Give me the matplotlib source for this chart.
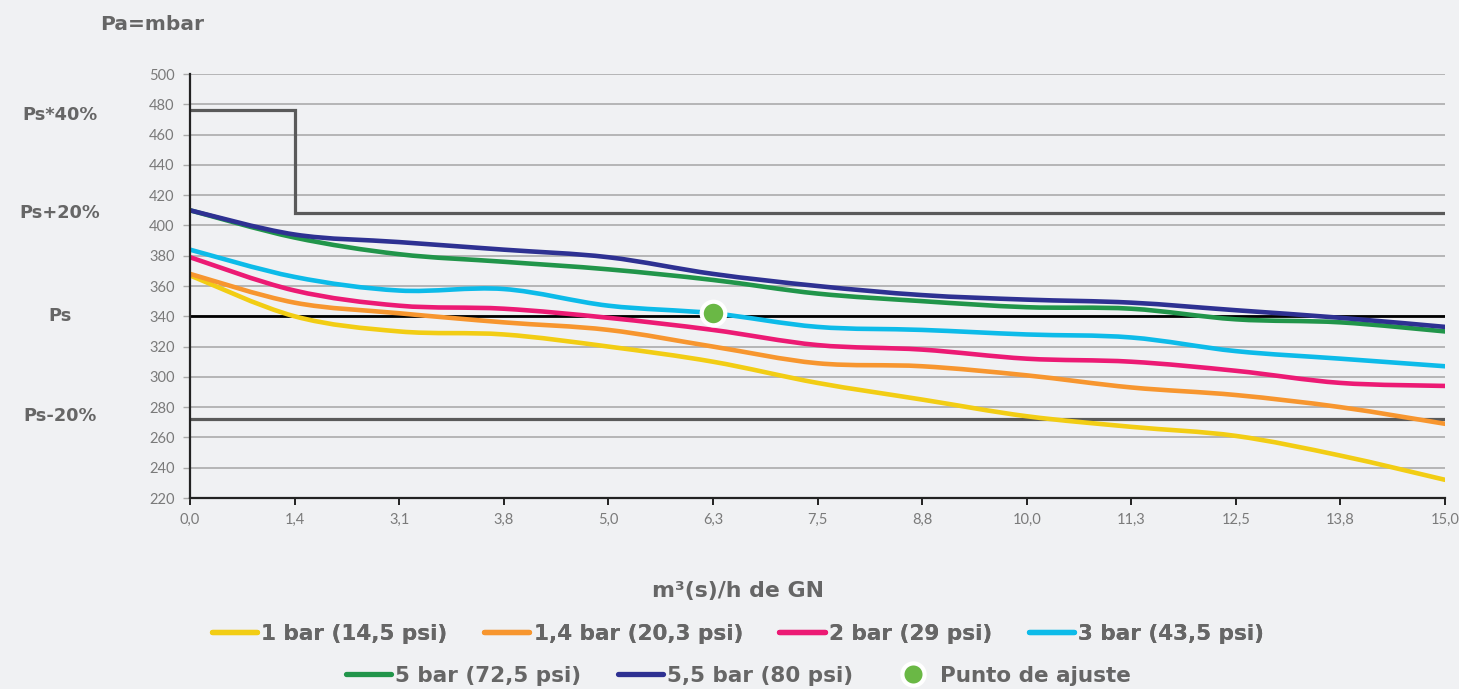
import matplotlib
matplotlib.use("Agg")
import matplotlib.pyplot as plt
import numpy as np
from matplotlib.path import Path
from matplotlib.patches import PathPatch
from matplotlib.lines import Line2D

# ---------------- data ----------------
categories = ["0,0", "1,4", "3,1", "3,8", "5,0", "6,3", "7,5", "8,8", "10,0", "11,3", "12,5", "13,8", "15,0"]
s_1bar   = [367, 340, 330, 328, 320, 310, 296, 285, 274, 267, 261, 248, 232]
s_14bar  = [368, 349, 342, 336, 331, 320, 309, 307, 301, 293, 288, 280, 269]
s_2bar   = [379, 357, 347, 345, 339, 331, 321, 318, 312, 310, 304, 296, 294]
s_3bar   = [384, 366, 357, 358, 347, 342, 333, 331, 328, 326, 317, 312, 307]
s_5bar   = [410, 392, 381, 376, 371, 364, 355, 350, 346, 345, 338, 336, 330]
s_55bar  = [410, 394, 389, 384, 379, 368, 360, 354, 351, 349, 344, 339, 333]
series_names = ["1 bar (14,5 psi)", "1,4 bar (20,3 psi)", "2 bar (29 psi)", "3 bar (43,5 psi)",
                "5 bar (72,5 psi)", "5,5 bar (80 psi)"]
series_colors = ["#f2cd14", "#f7962f", "#ec1a74", "#0dbbe9", "#21954a", "#2e3192"]
ps_value = 340
ps_plus20 = 408
ps_minus20 = 272
ps_40 = 476
step_end_index = 1
punto_index = 5
punto_value = 342
y_ticks = list(range(220, 501, 20))
side_labels = ["Ps*40%", "Ps+20%", "Ps", "Ps-20%"]
side_label_values = [473, 408, 340, 274]

# ---------------- style ----------------
bg = "#f0f1f3"
txt_gray = "#666666"
tick_gray = "#7a7a7a"
bold_fam = ['DejaVu Sans']
plt.rcParams['font.family'] = ['Lato', 'DejaVu Sans']

fig = plt.figure(figsize=(14.59, 6.89), dpi=100, facecolor=bg)
ax = fig.add_axes([190/1459, 1-498/689, (1445-190)/1459, (498-74)/689], facecolor=bg)

x = np.arange(len(categories))
ax.set_xlim(0, len(categories)-1)
ax.set_ylim(220, 500)

# grid
for v in y_ticks:
    ax.axhline(v, color="#ababab", lw=1.2, zorder=1)

def smooth_path(xs, ys):
    pts = np.column_stack([xs, ys]).astype(float)
    n = len(pts)
    verts = [pts[0]]
    codes = [Path.MOVETO]
    for i in range(n-1):
        p0 = pts[i-1] if i > 0 else pts[i]
        p1 = pts[i]
        p2 = pts[i+1]
        p3 = pts[i+2] if i+2 < n else pts[i+1]
        c1 = p1 + (p2 - p0) / 6.0
        c2 = p2 - (p3 - p1) / 6.0
        verts += [c1, c2, p2]
        codes += [Path.CURVE4]*3
    return Path(verts, codes)

# reference lines
ax.plot([0, step_end_index, step_end_index, len(categories)-1],
        [ps_40, ps_40, ps_plus20, ps_plus20], color="#5a5a5a", lw=2.3, zorder=2,
        solid_joinstyle="miter")
ax.axhline(ps_minus20, color="#5a5a5a", lw=2.3, zorder=2)
ax.axhline(ps_value, color="#000000", lw=2.0, zorder=2)

all_series = [s_1bar, s_14bar, s_2bar, s_3bar, s_5bar, s_55bar]
for ys, col in zip(all_series, series_colors):
    p = smooth_path(x, ys)
    ax.add_patch(PathPatch(p, facecolor="none", edgecolor=col, lw=3.3, zorder=3,
                           capstyle="round", joinstyle="round"))

ax.plot([punto_index], [punto_value], "o", color="#6ab845", markersize=17,
        markeredgecolor="white", markeredgewidth=3, zorder=5, clip_on=False)

# axes styling
for s in ["top", "right"]:
    ax.spines[s].set_visible(False)
ax.spines["left"].set_color("#222222")
ax.spines["bottom"].set_color("#222222")
ax.spines["left"].set_linewidth(1.6)
ax.spines["bottom"].set_linewidth(1.6)
ax.spines["left"].set_zorder(4)
ax.spines["bottom"].set_zorder(4)

ax.set_xticks(x)
ax.set_xticklabels(categories)
ax.set_yticks(y_ticks)
ax.set_yticklabels([str(v) for v in y_ticks])
ax.tick_params(axis="x", direction="out", length=5, width=1.4, color="#222222",
               labelsize=10.5, labelcolor=tick_gray, pad=6)
ax.tick_params(axis="y", direction="out", length=5, width=1.0, color="#ababab",
               labelsize=10.5, labelcolor=tick_gray, pad=6)

# titles / labels
fig.text(100/1459, 1-24/689, "Pa=mbar", fontsize=14.5, fontweight="bold", color=txt_gray,
         ha="left", va="center", family=bold_fam)
fig.text(738/1459, 1-591/689, "m³(s)/h de GN", fontsize=15.8, family=bold_fam,
         fontweight="bold", color=txt_gray, ha="center", va="center")

for lab, v in zip(side_labels, side_label_values):
    ax.annotate(lab, xy=(0, v), xycoords=("axes fraction", "data"),
                xytext=(60/1459, 0), textcoords=("figure fraction", "offset points"),
                fontsize=12.8, fontweight="bold", color=txt_gray, ha="center", va="center",
                family=bold_fam)

# legends
handles = [Line2D([0], [0], color=c, lw=3.8, solid_capstyle="round") for c in series_colors]
punto_handle = Line2D([0], [0], marker="o", linestyle="none", color="#6ab845",
                      markersize=16, markeredgecolor="white", markeredgewidth=3)

legprop = {"family": bold_fam, "weight": "bold", "size": 15.5}
leg1 = fig.legend(handles[:4], series_names[:4], loc="center", ncol=4,
                  bbox_to_anchor=(738/1459, 1-634/689), frameon=False,
                  handlelength=2.1, handletextpad=0.2, columnspacing=1.7, prop=legprop)
for t in leg1.get_texts():
    t.set_color(txt_gray)
leg2 = fig.legend(handles[4:] + [punto_handle], series_names[4:] + ["Punto de ajuste"],
                  loc="center", ncol=3, bbox_to_anchor=(738/1459, 1-676/689), frameon=False,
                  handlelength=2.1, handletextpad=0.2, columnspacing=1.7, prop=legprop)
for t in leg2.get_texts():
    t.set_color(txt_gray)
fig.add_artist(leg1)

fig.savefig("out.png", dpi=100, facecolor=bg)
